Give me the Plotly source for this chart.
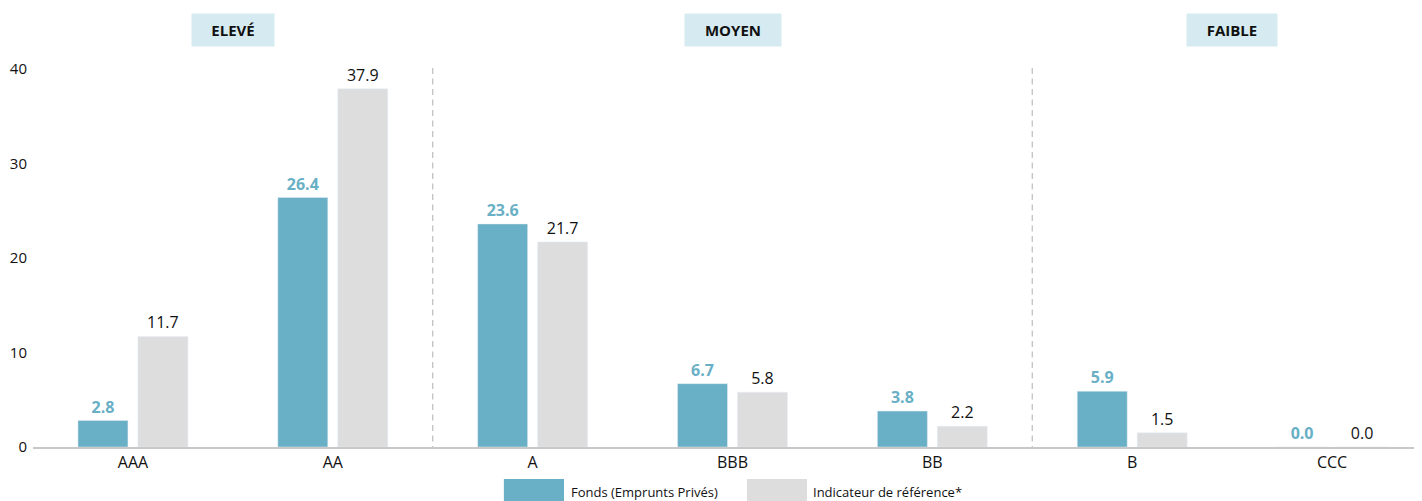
import plotly.graph_objects as go

categories = ["AAA", "AA", "A", "BBB", "BB", "B", "CCC"]
fonds = [2.8, 26.4, 23.6, 6.7, 3.8, 5.9, 0.0]
indicateur = [11.7, 37.9, 21.7, 5.8, 2.2, 1.5, 0.0]
series_names = ["Fonds (Emprunts Privés)", "Indicateur de référence*"]
groups = ["ELEVÉ", "MOYEN", "FAIBLE"]
group_centers = [0.5, 3.0, 5.5]
group_widths = [80, 94, 88]
separators = [1.5, 4.5]
yticks = [0, 10, 20, 30, 40]

TEAL = "#69afc5"
GREY = "#dddddd"
FONT = "Open Sans"

fig = go.Figure()
fig.add_trace(go.Bar(
    x=categories, y=fonds, name=series_names[0], marker_color=TEAL,
    text=[f"{v:.1f}" for v in fonds], textposition="outside",
    textfont=dict(family=FONT, size=16, color=TEAL, weight="bold"),
    cliponaxis=False, showlegend=False,
))
fig.add_trace(go.Bar(
    x=categories, y=indicateur, name=series_names[1], marker_color=GREY,
    text=[f"{v:.1f}" for v in indicateur], textposition="outside",
    textfont=dict(family=FONT, size=16, color="#111111"),
    cliponaxis=False, showlegend=False,
))

for s in separators:
    fig.add_shape(type="line", xref="x", yref="y", x0=s, x1=s, y0=40.1, y1=0,
                  line=dict(color="#c2c2c2", width=1.3, dash="6px,4.5px"))

for g, c, w in zip(groups, group_centers, group_widths):
    fig.add_annotation(x=c, xref="x", y=1.0775, yref="paper", text=f"<b>{g}</b>",
                       showarrow=False, bgcolor="#d6ebf1", width=w, height=30,
                       font=dict(family=FONT, size=15, color="#111111"),
                       xanchor="center", yanchor="middle")

# legend drawn as decoration
leg = [(0.339, 0.3823, TEAL, 0.3859, series_names[0]),
       (0.514, 0.5572, GREY, 0.5602, series_names[1])]
for x0, x1, col, tx, name in leg:
    fig.add_shape(type="rect", xref="paper", yref="paper", x0=x0, x1=x1,
                  y0=-0.0827, y1=-0.16, fillcolor=col, line_width=0)
    fig.add_annotation(x=tx, xref="paper", y=-0.116, yref="paper", text=name,
                       showarrow=False, xanchor="left", yanchor="middle",
                       font=dict(family=FONT, size=13, color="#111111"))

fig.update_layout(
    width=1414, height=493,
    margin=dict(l=25, r=0, t=52, b=54),
    paper_bgcolor="white", plot_bgcolor="white",
    barmode="group", bargap=0.4, bargroupgap=1 / 6,
    font=dict(family=FONT, color="#111111"),
    xaxis=dict(range=[-0.5, 6.45], showline=True, linecolor="#c8c8c8", linewidth=2,
               showgrid=False, ticks="", tickfont=dict(size=16, color="#111111")),
    yaxis=dict(range=[0, 40.95], showgrid=False, zeroline=False, showline=False,
               tickvals=yticks, ticklabelstandoff=5,
               tickfont=dict(size=15, color="#111111")),
)

fig.write_html("out.html")
